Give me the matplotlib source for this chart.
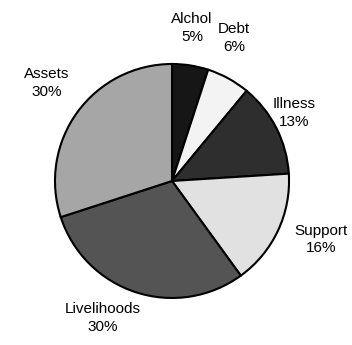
import matplotlib.pyplot as plt

# causes of debt, share of households
causes = ["Alchol", "Debt", "Illness", "Support", "Livelihoods", "Assets"]
shares = [5, 6, 13, 16, 30, 30]
shades = ["#161616", "#f3f3f3", "#2e2e2e", "#e1e1e1", "#545454", "#a6a6a6"]

# where each label sits (pie radius = 1)
label_xy = [(0.17, 1.31), (0.53, 1.22), (1.04, 0.58),
            (1.27, -0.50), (-0.59, -1.17), (-1.07, 0.84)]

plt.rcParams["font.family"] = ["Liberation Sans", "DejaVu Sans"]

fig = plt.figure(figsize=(3.52, 3.45), dpi=100)
ax = fig.add_axes([0, 0, 1, 1])

wedges, _ = ax.pie(shares, colors=shades, startangle=90, counterclock=False,
                   wedgeprops=dict(edgecolor="black", linewidth=1.5))

for name, val, (x, y) in zip(causes, shares, label_xy):
    ax.text(x, y, f"{name}\n{val}%", ha="center", va="center",
            fontsize=11, linespacing=1.35)

ax.set_xlim(-1.470, 1.538)
ax.set_ylim(-1.402, 1.547)
ax.set_aspect("auto")
ax.axis("off")

fig.savefig("out.png", dpi=100, facecolor="white")
